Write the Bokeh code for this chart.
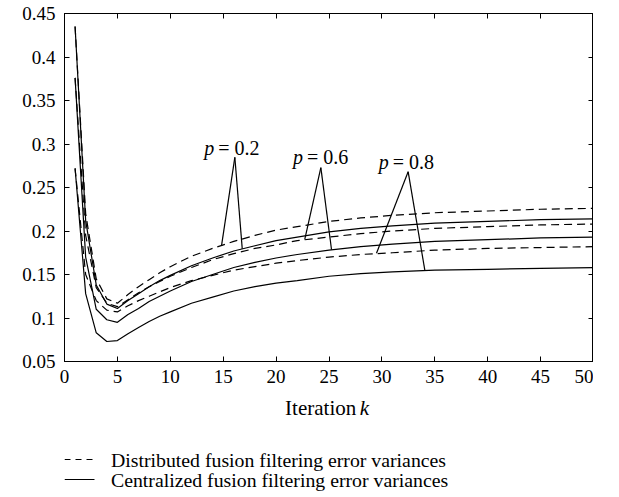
from bokeh.plotting import figure
from bokeh.layouts import column, row
from bokeh.models import FixedTicker, LinearAxis, Range1d, CustomLabelingPolicy, Spacer
from bokeh.embed import file_html
from bokeh.resources import INLINE
from bokeh.core.properties import value

# ---- data ----
k = [1, 2, 3, 4, 5, 6, 7, 8, 9, 10, 12, 14, 16, 18, 20, 22, 25, 28, 31, 35, 40, 45, 50]
dist_p02 = [0.435, 0.220, 0.145, 0.122, 0.117, 0.127, 0.136, 0.144, 0.152, 0.159, 0.171, 0.180, 0.188,
            0.195, 0.201, 0.205, 0.211, 0.215, 0.218, 0.221, 0.223, 0.225, 0.226]
cent_p02 = [0.435, 0.212, 0.138, 0.116, 0.111, 0.120, 0.128, 0.136, 0.143, 0.149, 0.160, 0.169, 0.177,
            0.183, 0.189, 0.193, 0.199, 0.203, 0.206, 0.209, 0.211, 0.213, 0.214]
dist_p06 = [0.376, 0.195, 0.135, 0.117, 0.113, 0.121, 0.129, 0.136, 0.142, 0.148, 0.158, 0.167, 0.174,
            0.180, 0.184, 0.189, 0.193, 0.197, 0.200, 0.203, 0.205, 0.207, 0.208]
cent_p06 = [0.376, 0.170, 0.110, 0.098, 0.095, 0.104, 0.111, 0.119, 0.125, 0.131, 0.142, 0.150, 0.158,
            0.164, 0.169, 0.173, 0.178, 0.182, 0.185, 0.188, 0.190, 0.192, 0.193]
dist_p08 = [0.272, 0.150, 0.120, 0.109, 0.107, 0.114, 0.120, 0.125, 0.130, 0.135, 0.143, 0.149, 0.155,
            0.159, 0.163, 0.166, 0.170, 0.173, 0.175, 0.178, 0.180, 0.181, 0.182]
cent_p08 = [0.272, 0.128, 0.083, 0.073, 0.074, 0.082, 0.089, 0.096, 0.102, 0.107, 0.117, 0.124, 0.131,
            0.136, 0.140, 0.143, 0.148, 0.151, 0.153, 0.155, 0.156, 0.157, 0.158]

x_ticks = [0, 5, 10, 15, 20, 25, 30, 35, 40, 45, 50]
x_tick_labels = ["0", "5", "10", "15", "20", "25", "30", "35", "40", "45", "50"]
y_ticks = [0.05, 0.1, 0.15, 0.2, 0.25, 0.3, 0.35, 0.4, 0.45]
y_tick_labels = ["0.05", "0.1", "0.15", "0.2", "0.25", "0.3", "0.35", "0.4", "0.45"]

# annotation triangles (apex and two feet) and labels
ann_p = ["0.2", "0.6", "0.8"]
ann_text_k = [13.2, 21.6, 29.7]
ann_text_v = [0.2954, 0.2854, 0.2797]
apex_k = [16.1, 24.23, 32.48]
apex_v = [0.2847, 0.2728, 0.2682]
foot_left_k = [14.84, 22.71, 29.49]
foot_left_v = [0.183, 0.1905, 0.1745]
foot_right_k = [16.8, 25.24, 34.06]
foot_right_v = [0.1795, 0.1785, 0.1548]

x_label = "Iteration"
x_label_var = "k"
legend_labels = ["Distributed fusion filtering error variances",
                 "Centralized fusion filtering error variances"]
legend_dash = ["6 5", "solid"]

SERIF = "Liberation Serif"
dash = "8 5"
lw = 1.2

# ---------------- main chart ----------------
p = figure(frame_width=529, frame_height=348, output_backend="svg", toolbar_location=None,
           x_range=Range1d(0, 50), y_range=Range1d(0.05, 0.45),
           min_border_left=0, min_border_right=0, min_border_top=13, min_border_bottom=32)
p.xgrid.visible = False
p.ygrid.visible = False
p.outline_line_color = "black"
p.outline_line_width = 1

p.line(k, dist_p02, line_color="black", line_width=lw, line_dash=dash)
p.line(k, cent_p02, line_color="black", line_width=lw)
p.line(k, dist_p06, line_color="black", line_width=lw, line_dash=dash)
p.line(k, cent_p06, line_color="black", line_width=lw)
p.line(k, dist_p08, line_color="black", line_width=lw, line_dash=dash)
p.line(k, cent_p08, line_color="black", line_width=lw)

# annotation triangles
p.segment(apex_k, apex_v, foot_left_k, foot_left_v, line_color="black", line_width=1.2)
p.segment(apex_k, apex_v, foot_right_k, foot_right_v, line_color="black", line_width=1.2)
p.text(ann_text_k, ann_text_v, text=["p"] * 3, text_font=value(SERIF), text_font_style="italic",
       text_font_size="20px", text_baseline="alphabetic", text_align="left", text_color="black")
p.text(ann_text_k, ann_text_v, text=["= " + s for s in ann_p], text_font=value(SERIF),
       text_font_size="20px", text_baseline="alphabetic", text_align="left", text_color="black",
       x_offset=14)

xt = FixedTicker(ticks=x_ticks)
yt = FixedTicker(ticks=y_ticks)
xo = {t: s for t, s in zip(x_ticks, x_tick_labels)}
yo = {t: s for t, s in zip(y_ticks, y_tick_labels)}

def style_axis(ax, labels=True):
    ax.major_tick_in = 5
    ax.major_tick_out = 0
    ax.minor_tick_line_color = None
    ax.axis_line_color = "black"
    ax.major_tick_line_color = "black"
    ax.major_label_text_font = SERIF
    ax.major_label_text_color = "black"
    ax.major_label_text_font_size = "19px"
    if not labels:
        ax.major_label_policy = CustomLabelingPolicy(code="return new Set()")
        ax.major_label_standoff = 0

p.xaxis.ticker = xt
p.yaxis.ticker = yt
p.xaxis.major_label_overrides = xo
p.yaxis.major_label_overrides = yo
style_axis(p.xaxis[0])
style_axis(p.yaxis[0])
p.xaxis.major_label_standoff = 8
p.yaxis.major_label_standoff = 9

top = LinearAxis(ticker=xt, major_label_overrides={t: "" for t in x_ticks})
style_axis(top, labels=False)
p.add_layout(top, "above")
right = LinearAxis(ticker=yt, major_label_overrides={t: "" for t in y_ticks})
style_axis(right, labels=False)
p.add_layout(right, "right")

# ---------------- strip below: axis title and legend ----------------
H = 100
pl = figure(width=573, height=H, output_backend="svg", toolbar_location=None,
            x_range=p.x_range, y_range=Range1d(H, 0), x_axis_type=None, y_axis_type=None,
            min_border=0)
pl.xgrid.visible = False
pl.ygrid.visible = False
pl.outline_line_color = None

title_x = [20.89, 27.95]
title_y = [14, 14]
pl.text(title_x[:1], title_y[:1], text=[x_label], text_font=value(SERIF), text_font_size="21px",
        text_baseline="middle", text_align="left", text_color="black")
pl.text(title_x[1:], title_y[1:], text=[x_label_var], text_font=value(SERIF), text_font_size="21px",
        text_font_style="italic", text_baseline="middle", text_align="left", text_color="black")

leg_y = [66, 86]
leg_x0, leg_x1, leg_tx = 0.0, 2.84, 4.4
for yy, dd in zip(leg_y, legend_dash):
    pl.line([leg_x0, leg_x1], [yy, yy], line_color="black", line_width=lw, line_dash=dd)
pl.text([leg_tx] * 2, leg_y, text=legend_labels, text_font=value(SERIF), text_font_size="19.8px",
        text_baseline="middle", text_align="left", text_color="black")

layout = row(Spacer(width=19), column(p, pl, spacing=0), spacing=0)
open("out.html", "w").write(file_html(layout, INLINE))
